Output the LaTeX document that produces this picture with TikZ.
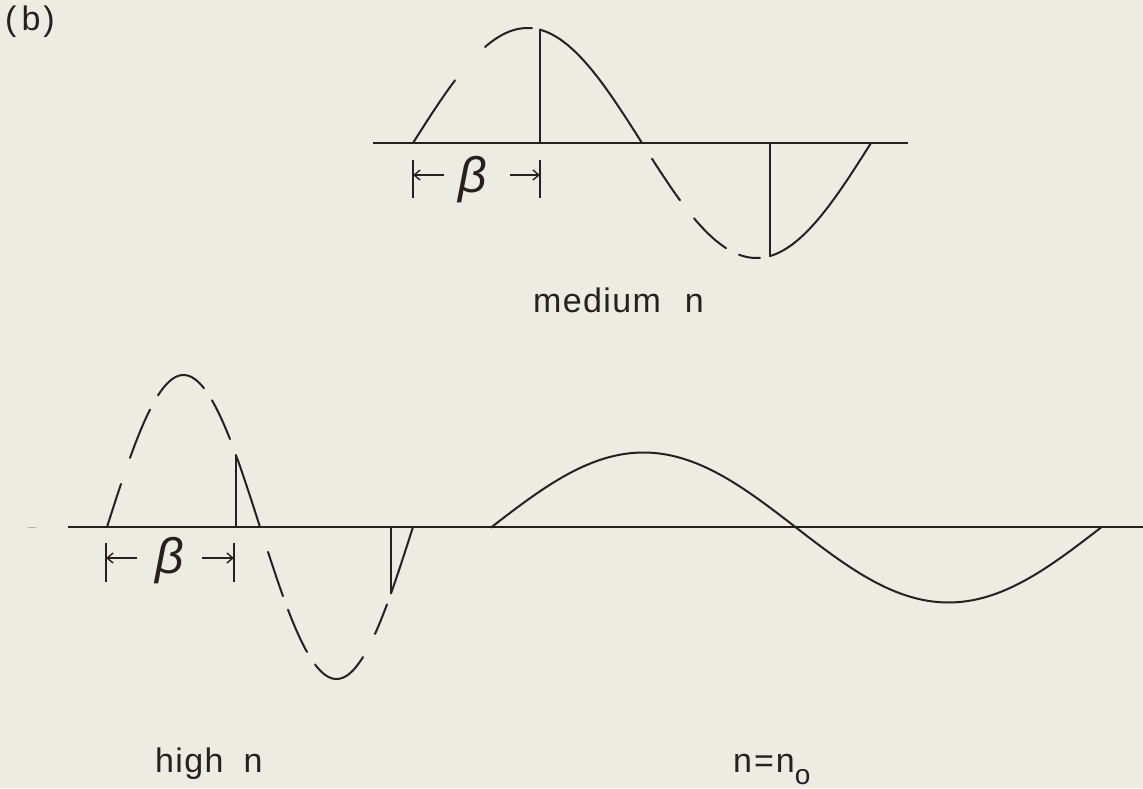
\documentclass[tikz,border=0pt]{standalone}
\usepackage{fontspec}
\newfontfamily\lab[LetterSpace=4]{Liberation Sans}
\usetikzlibrary{arrows.meta}
\definecolor{paper}{RGB}{236,236,226}
\definecolor{ink}{RGB}{38,33,33}
\pgfmathdeclarefunction{wa}{1}{\pgfmathparse{143-115*sin((#1-413)/229*180)}}
\pgfmathdeclarefunction{wb}{1}{\pgfmathparse{527-152*sin((#1-107)/153*180)}}
\pgfmathdeclarefunction{wc}{1}{\pgfmathparse{527.5-75*sin((#1-491)/305*180)}}
\begin{document}
\begin{tikzpicture}[x=1pt,y=-1pt,
  wave/.style={draw=ink, line width=2pt, line cap=round},
  axisline/.style={draw=ink, line width=1.6pt},
  tickline/.style={draw=ink, line width=1.4pt},
  dimarrow/.style={draw=ink, line width=1.4pt, -{Straight Barb[length=6pt,width=10pt]}},
  label/.style={inner sep=0pt, text=ink, font=\lab\fontsize{34}{40}\selectfont},
  betalabel/.style={inner sep=0pt, text=ink, font=\lab\itshape\fontsize{50}{50}\selectfont}]
\useasboundingbox (0,0) rectangle (1143,788);
\fill[paper] (0,0) rectangle (1143,788);

% ---------- panel label
\node[label, anchor=center] (plabel) at (30,22) {(\hspace{5pt}b\hspace{3pt})};

% ---------- top: medium n
\draw[axisline] (373,143) -- (908,143);
\draw[wave] plot[domain=413:455,samples=20] (\x,{wa(\x)});
\draw[wave] plot[domain=485:532,samples=20] (\x,{wa(\x)});
\draw[wave] (540,143) -- (540,{wa(540)});
\draw[wave] plot[domain=540:642,samples=40] (\x,{wa(\x)});
\draw[wave] plot[domain=652:680,samples=15] (\x,{wa(\x)});
\draw[wave] plot[domain=694:726,samples=15] (\x,{wa(\x)});
\draw[wave] plot[domain=739:760,samples=15] (\x,{wa(\x)});
\draw[wave] (770,143) -- (770,{wa(770)});
\draw[wave] plot[domain=770:871,samples=40] (\x,{wa(\x)});

\coordinate (ta1) at (413,160); \coordinate (ta2) at (413,198);
\coordinate (tb1) at (540,160); \coordinate (tb2) at (540,198);
\coordinate (la) at (413,175); \coordinate (ra) at (540,175);
\coordinate (las) at (444,175); \coordinate (ras) at (510,175);
\draw[tickline] (ta1) -- (ta2);
\draw[tickline] (tb1) -- (tb2);
\draw[dimarrow] (las) -- (la);
\draw[dimarrow] (ras) -- (ra);
\node[betalabel] (betaA) at (473,180) {β};

\node[label, anchor=base west] (medn) at (533,312) {medium\hspace{24pt}n};

% ---------- bottom axis
\draw[draw=ink!35, line width=1pt] (28,527) -- (36,527);
\draw[axisline] (68,527) -- (1143,527);

% ---------- high n
\draw[wave] plot[domain=107:121,samples=10] (\x,{wb(\x)});
\draw[wave] plot[domain=130:150,samples=10] (\x,{wb(\x)});
\draw[wave] plot[domain=158:204,samples=25] (\x,{wb(\x)});
\draw[wave] plot[domain=212:230,samples=10] (\x,{wb(\x)});
\draw[wave] (236,527) -- (236,{wb(236)});
\draw[wave] plot[domain=236:260,samples=12] (\x,{wb(\x)});
\draw[wave] plot[domain=268:283,samples=10] (\x,{wb(\x)});
\draw[wave] plot[domain=288:307,samples=10] (\x,{wb(\x)});
\draw[wave] plot[domain=315:363,samples=25] (\x,{wb(\x)});
\draw[wave] plot[domain=375:387,samples=10] (\x,{wb(\x)});
\draw[wave] (391,527) -- (391,{wb(391)});
\draw[wave] plot[domain=391:413,samples=12] (\x,{wb(\x)});

\coordinate (tc1) at (106,543); \coordinate (tc2) at (106,582);
\coordinate (td1) at (234,543); \coordinate (td2) at (234,582);
\coordinate (lb) at (106,558); \coordinate (rb) at (234,558);
\coordinate (lbs) at (137,558); \coordinate (rbs) at (202,558);
\draw[tickline] (tc1) -- (tc2);
\draw[tickline] (td1) -- (td2);
\draw[dimarrow] (lbs) -- (lb);
\draw[dimarrow] (rbs) -- (rb);
\node[betalabel] (betaB) at (170,561) {β};

\node[label, anchor=base west] (highn) at (155,772) {high\hspace{20pt}n};

% ---------- n = n_o
\draw[wave] plot[domain=491:1101,samples=120] (\x,{wc(\x)});
\node[label, anchor=base west] (nno) at (733,772) {n\hspace{2pt}=\hspace{2pt}n\raisebox{-12pt}{\fontsize{28}{28}\selectfont o}};
\end{tikzpicture}
\end{document}
